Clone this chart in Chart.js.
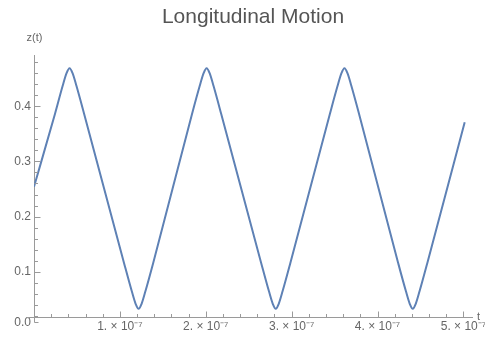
<!DOCTYPE html>
<html>
<head>
<meta charset="utf-8">
<script src="https://cdn.jsdelivr.net/npm/chart.js@4/dist/chart.umd.min.js"></script>
<style>
  html, body { margin: 0; padding: 0; background: #fff; }
</style>
</head>
<body>
<canvas id="motionChart" width="485" height="340"></canvas>
<script>
// z(t), time in units of 1e-7 s
const tValues = [
    0, 0.244, 0.334, 0.379, 0.414, 0.449, 0.494, 0.584,
    1.048, 1.138, 1.183, 1.218, 1.253, 1.298, 1.388,
    1.840, 1.930, 1.975, 2.010, 2.045, 2.090, 2.180,
    2.645, 2.735, 2.780, 2.815, 2.850, 2.895, 2.985,
    3.445, 3.535, 3.580, 3.615, 3.650, 3.695, 3.785,
    4.240, 4.330, 4.375, 4.410, 4.445, 4.490, 4.580,
    5.015
];
const zValues = [
    0.254, 0.386, 0.437, 0.460, 0.469, 0.460, 0.437, 0.386,
    0.116, 0.065, 0.042, 0.033, 0.042, 0.065, 0.116,
    0.386, 0.437, 0.460, 0.469, 0.460, 0.437, 0.386,
    0.116, 0.065, 0.042, 0.033, 0.042, 0.065, 0.116,
    0.386, 0.437, 0.460, 0.469, 0.460, 0.437, 0.386,
    0.116, 0.065, 0.042, 0.033, 0.042, 0.065, 0.116,
    0.371
];

// tick labels
const xTicks = [1, 2, 3, 4, 5];
const yTicks = [0.0, 0.1, 0.2, 0.3, 0.4];

const X_MIN = 0, X_MAX = 5.1;
const Y_MIN = 0.018, Y_MAX = 0.4925;
const Y_ZERO_TICK = 0.008; // the "0.0" label sits on the little tick below the crossing

const axisColor = '#9a9a9a';
const labelColor = '#666';
const fontFamily = '"Liberation Sans", Arial, sans-serif';

// Mathematica style ticks: pointing into the plot, with minor ticks
const axisTicks = {
    id: 'axisTicks',
    afterDraw(chart) {
        const ctx = chart.ctx;
        const x = chart.scales.x;
        const y = chart.scales.y;
        const left = Math.round(chart.chartArea.left) + 0.5;
        const bottom = Math.round(chart.chartArea.bottom) + 0.5;
        ctx.save();
        ctx.strokeStyle = axisColor;
        ctx.lineWidth = 1;
        ctx.beginPath();
        // small overhang where the axes cross
        ctx.moveTo(left - 8, bottom); ctx.lineTo(left, bottom);
        ctx.moveTo(left, bottom); ctx.lineTo(left, bottom + 5);
        ctx.moveTo(left, bottom + 5); ctx.lineTo(left + 4, bottom + 5);
        // x ticks
        for (let i = 1; i <= 25; i++) {
            const px = Math.round(x.getPixelForValue(i * 0.2)) + 0.5;
            const len = i % 5 === 0 ? 6 : 3.5;
            ctx.moveTo(px, bottom);
            ctx.lineTo(px, bottom - len);
        }
        // y ticks
        for (let i = 1; i <= 24; i++) {
            const v = i * 0.02;
            if (v < Y_MIN) continue;
            const py = Math.round(y.getPixelForValue(v)) + 0.5;
            const len = i % 5 === 0 ? 6 : 3.5;
            ctx.moveTo(left, py);
            ctx.lineTo(left + len, py);
        }
        ctx.stroke();

        ctx.fillStyle = labelColor;
        ctx.font = '11px ' + fontFamily;
        ctx.textAlign = 'center';
        ctx.textBaseline = 'middle';
        ctx.fillText('z(t)', left, 38);
        ctx.textAlign = 'left';
        ctx.fillText('t', 477, bottom - 1);
        ctx.restore();
    }
};

const ctx = document.getElementById('motionChart').getContext('2d');
const motionChart = new Chart(ctx, {
    type: 'line',
    data: {
        datasets: [{
            label: 'z(t)',
            data: tValues.map((t, i) => ({ x: t, y: zValues[i] })),
            borderColor: '#5e81b5',
            borderWidth: 2,
            pointRadius: 0,
            fill: false,
            cubicInterpolationMode: 'monotone'
        }]
    },
    options: {
        responsive: false,
        animation: false,
        devicePixelRatio: 1,
        layout: { padding: { left: 0, right: 13, top: 0, bottom: 0 } },
        plugins: {
            legend: { display: false },
            tooltip: { enabled: false },
            title: {
                display: true,
                fullSize: false,
                text: 'Longitudinal Motion',
                color: '#555',
                font: { family: fontFamily, size: 21, weight: 'normal' },
                padding: { top: 5, bottom: 25 }
            }
        },
        scales: {
            x: {
                type: 'linear',
                min: X_MIN,
                max: X_MAX,
                afterBuildTicks: (scale) => {
                    scale.ticks = xTicks.map(v => ({ value: v }));
                },
                afterFit: (scale) => {
                    scale.height = 23;
                    scale.paddingLeft = 0;
                    scale.paddingRight = 0;
                },
                ticks: {
                    color: labelColor,
                    font: { family: fontFamily, size: 12 },
                    padding: 2,
                    autoSkip: false,
                    maxRotation: 0,
                    callback: (v) => v + '. \u00d7 10\u207b\u2077'
                },
                grid: { display: true, drawOnChartArea: false, drawTicks: false },
                border: { display: true, color: axisColor, width: 1 }
            },
            y: {
                type: 'linear',
                min: Y_MIN,
                max: Y_MAX,
                afterBuildTicks: (scale) => {
                    scale.ticks = yTicks.map(v => ({ value: v === 0 ? Y_ZERO_TICK : v }));
                },
                afterFit: (scale) => {
                    scale.width = 34;
                },
                ticks: {
                    color: labelColor,
                    font: { family: fontFamily, size: 12 },
                    padding: 3,
                    callback: (v) => v.toFixed(1)
                },
                grid: { display: true, drawOnChartArea: false, drawTicks: false },
                border: { display: true, color: axisColor, width: 1 }
            }
        }
    },
    plugins: [axisTicks]
});
</script>
</body>
</html>
